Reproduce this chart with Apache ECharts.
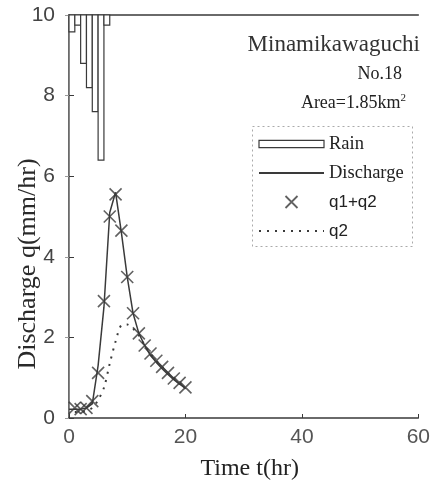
<!DOCTYPE html>
<html>
<head>
<meta charset="utf-8">
<script src="https://cdn.jsdelivr.net/npm/echarts@6/dist/echarts.min.js"></script>
<style>
  html, body { margin: 0; padding: 0; background: #fff; }
  #main { width: 433px; height: 493px; }
</style>
</head>
<body>
<div id="main"></div>
<script>
// rainfall (hyetograph, hanging from the top), one bar per hour
const rainHour = [0, 1, 2, 3, 4, 5, 6]
const rain = [0.42, 0.25, 1.2, 1.8, 2.4, 3.6, 0.25]

// observed discharge (solid line)
const dischargeTime = [0, 1, 2, 3, 4, 5, 6, 7, 8, 9, 10, 11, 12, 13, 14, 15, 16, 17, 18, 19, 20]
const discharge = [0.22, 0.22, 0.22, 0.25, 0.35, 1.3, 2.75, 5.1, 5.6, 4.6, 3.5, 2.6, 2.1, 1.8, 1.55, 1.38, 1.22, 1.08, 0.95, 0.84, 0.74]

// computed q1+q2 (crosses) and q2 (dotted)
const calcTime = [1, 2, 3, 4, 5, 6, 7, 8, 9, 10, 11, 12, 13, 14, 15, 16, 17, 18, 19, 20]
const q12 = [0.25, 0.22, 0.25, 0.42, 1.12, 2.9, 5.0, 5.55, 4.65, 3.5, 2.6, 2.1, 1.8, 1.6, 1.42, 1.27, 1.12, 0.98, 0.87, 0.76]
const q2 = [0.15, 0.15, 0.18, 0.25, 0.45, 0.75, 1.35, 1.9, 2.3, 2.32, 2.22, 2.05, 1.8, 1.6, 1.42, 1.27, 1.12, 0.98, 0.87, 0.76]

const xTicks = [0, 20, 40, 60]
const yTicks = [0, 2, 4, 6, 8, 10]

const zip = (a, b) => a.map((v, i) => [v, b[i]])
const ink = '#3a3a3a'
const serif = '"Liberation Serif", "DejaVu Serif", serif'
const sans = '"Liberation Sans", "DejaVu Sans", sans-serif'
const cross = 'path://M0,0L10,10M10,0L0,10'
const hidden = { color: 'transparent', borderWidth: 0, opacity: 0 }

const chart = echarts.init(document.getElementById('main'))

const option = {
  animation: false,
  grid: { left: 69, right: 9, top: 15, bottom: 75 },
  xAxis: [
    {
      type: 'value', min: xTicks[0], max: xTicks[xTicks.length - 1], interval: 20,
      name: 'Time t(hr)', nameLocation: 'middle', nameGap: 39,
      nameTextStyle: { fontFamily: serif, fontSize: 24, color: '#222', padding: [0, 0, 0, 12] },
      axisLine: { lineStyle: { color: ink, width: 1.5 } },
      axisTick: { inside: true, length: 4, lineStyle: { color: ink } },
      axisLabel: { fontFamily: sans, fontSize: 21, color: '#555', margin: 9 },
      splitLine: { show: false }
    },
    {
      type: 'value', position: 'top', min: 0, max: 60, interval: 20,
      axisLine: { show: true, lineStyle: { color: ink, width: 1.5 } },
      axisTick: { show: false }, axisLabel: { show: false }, splitLine: { show: false }
    }
  ],
  yAxis: [
    {
      type: 'value', min: yTicks[0], max: yTicks[yTicks.length - 1], interval: 2,
      axisLine: { show: true, lineStyle: { color: ink, width: 1.5 } },
      axisTick: { show: true, inside: true, length: 5, lineStyle: { color: ink } },
      axisLabel: { fontFamily: sans, fontSize: 21, color: '#444', margin: 14 },
      splitLine: { show: false }
    },
    {
      type: 'value', position: 'right', inverse: true, min: 0, max: 10, interval: 2,
      axisLine: { show: true, lineStyle: { color: '#888', width: 1 } },
      axisTick: { show: true, inside: true, length: 4, lineStyle: { color: '#999' } },
      axisLabel: { show: false }, splitLine: { show: false }
    }
  ],
  legend: {
    orient: 'vertical', left: 253, top: 129,
    itemWidth: 65, itemHeight: 12, itemGap: 9,
    textStyle: {
      lineHeight: 20,
      rich: {
        r: { fontFamily: serif, fontSize: 18.5, color: '#222' },
        s: { fontFamily: sans, fontSize: 17, color: '#222' }
      }
    },
    formatter: name => name.startsWith('q') ? '{s|' + name + '}' : '{r|' + name + '}',
    data: [
      { name: 'Rain', icon: 'path://M0,0L64,0L64,7L0,7Z', itemStyle: { color: '#fff', borderColor: ink, borderWidth: 1.2 } },
      { name: 'Discharge', itemStyle: hidden },
      { name: 'q1+q2', icon: cross, itemStyle: { color: 'transparent', borderColor: ink, borderWidth: 1.8 } },
      { name: 'q2', itemStyle: hidden }
    ]
  },
  graphic: [
    {
      type: 'rect', left: 250, top: 124, z: 0,
      shape: { width: 160, height: 120 },
      style: { fill: 'none', stroke: '#aaa', lineWidth: 1, lineDash: [2, 3] }
    },
    {
      type: 'text', right: 13, top: 33,
      style: { text: 'Minamikawaguchi', font: '23px ' + serif, fill: '#333' }
    },
    {
      type: 'text', right: 31, top: 65,
      style: { text: 'No.18', font: '18px ' + serif, fill: '#222' }
    },
    {
      type: 'text', right: 27, top: 93,
      style: {
        text: '{a|Area=1.85km}{b|2}',
        rich: {
          a: { fontFamily: serif, fontSize: 18, fill: '#222', color: '#222' },
          b: { fontFamily: serif, fontSize: 11, fill: '#222', color: '#222', verticalAlign: 'top', padding: [0, 0, 9, 0] }
        }
      }
    },
    {
      type: 'text', x: 28, y: 264, rotation: Math.PI / 2,
      style: { text: 'Discharge q(mm/hr)', font: '26px ' + serif, fill: '#2a2a2a', align: 'center', verticalAlign: 'middle' }
    }
  ],
  series: [
    {
      name: 'Rain', type: 'custom', xAxisIndex: 0, yAxisIndex: 1,
      data: zip(rainHour, rain),
      renderItem: (params, api) => {
        const t = api.value(0)
        const v = api.value(1)
        const p0 = api.coord([t, 0])
        const p1 = api.coord([t + 1, v])
        return {
          type: 'rect',
          shape: { x: p0[0], y: p0[1], width: p1[0] - p0[0], height: p1[1] - p0[1] },
          style: { fill: '#fff', stroke: ink, lineWidth: 1.2 }
        }
      }
    },
    {
      name: 'Discharge', type: 'line', symbol: 'none',
      data: zip(dischargeTime, discharge),
      lineStyle: { color: ink, width: 1.5 },
      itemStyle: { color: ink }
    },
    {
      name: 'q2', type: 'line', symbol: 'none', smooth: 0.3,
      data: zip(calcTime, q2),
      lineStyle: { color: ink, width: 2, type: [2, 6] },
      itemStyle: { color: ink }
    },
    {
      name: 'q1+q2', type: 'scatter', symbol: cross, symbolSize: 12,
      data: zip(calcTime, q12),
      itemStyle: { color: 'transparent', borderColor: ink, borderWidth: 1.6 }
    }
  ]
}

chart.setOption(option)
</script>
</body>
</html>
